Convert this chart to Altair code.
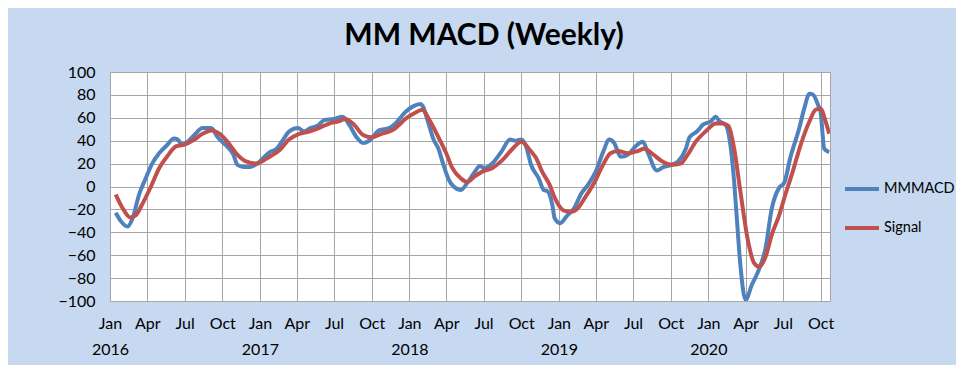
import altair as alt
import pandas as pd

# MMMACD (blue) readings
macd_dates = [
    "2016-01-15", "2016-01-27", "2016-02-13", "2016-02-25", "2016-03-12", "2016-03-28",
    "2016-04-13", "2016-04-30", "2016-05-19", "2016-06-05", "2016-06-14", "2016-06-25",
    "2016-07-08", "2016-07-25", "2016-08-14", "2016-09-04", "2016-09-20", "2016-10-10",
    "2016-10-28", "2016-11-07", "2016-11-22", "2016-12-07", "2016-12-25", "2017-01-01",
    "2017-01-25", "2017-02-11", "2017-02-27", "2017-03-13", "2017-04-04", "2017-04-19",
    "2017-05-04", "2017-05-22", "2017-06-07", "2017-07-01", "2017-07-22", "2017-08-07",
    "2017-08-25", "2017-09-10", "2017-09-25", "2017-10-19", "2017-11-13", "2017-11-28",
    "2017-12-10", "2017-12-22", "2018-01-10", "2018-01-28", "2018-02-03", "2018-02-15",
    "2018-03-01", "2018-03-13", "2018-03-25", "2018-04-07", "2018-04-19", "2018-05-07",
    "2018-05-22", "2018-06-10", "2018-06-22", "2018-07-04", "2018-07-22", "2018-08-13",
    "2018-09-04", "2018-09-16", "2018-10-01", "2018-10-13", "2018-10-25", "2018-11-13",
    "2018-11-25", "2018-12-04", "2018-12-16", "2018-12-22", "2019-01-04", "2019-01-22",
    "2019-02-07", "2019-02-25", "2019-03-10", "2019-04-01", "2019-04-19", "2019-05-04",
    "2019-05-16", "2019-06-01", "2019-06-19", "2019-07-07", "2019-07-25", "2019-08-07",
    "2019-08-28", "2019-09-13", "2019-10-04", "2019-10-19", "2019-11-07", "2019-11-16",
    "2019-12-04", "2019-12-19", "2020-01-07", "2020-01-19", "2020-01-28", "2020-02-12",
    "2020-02-25", "2020-03-04", "2020-03-10", "2020-03-19", "2020-04-01", "2020-04-16",
    "2020-05-04", "2020-05-19", "2020-06-04", "2020-06-22", "2020-07-04", "2020-07-19",
    "2020-08-10", "2020-08-22", "2020-09-04", "2020-09-13", "2020-09-25", "2020-10-01",
    "2020-10-10", "2020-10-22",
]
macd_values = [
    -23, -30, -35, -28, -7, 7,
    20, 29, 36, 42, 41, 37,
    39, 45, 51, 51, 43, 36,
    28, 19, 17, 17, 20, 22,
    30, 33, 41, 48, 51, 48,
    51, 53, 58, 59, 61, 54,
    43, 38, 40, 49, 51, 55,
    60, 65, 70, 72, 70, 57,
    41, 33, 19, 6, 0, -3,
    3, 13, 18, 16, 20, 30,
    41, 40, 41, 35, 19, 7,
    -3, -4, -16, -28, -32, -25,
    -19, -6, 0, 13, 30, 41,
    38, 26, 28, 35, 39, 29,
    14, 17, 19, 22, 33, 43,
    48, 54, 57, 61, 57, 54,
    33, 4, -25, -68, -99, -86,
    -72, -55, -19, -1, 3, 25,
    51, 68, 81, 80, 71, 65,
    33, 30,
]

# Signal (red) readings
signal_dates = [
    "2016-01-15", "2016-02-01", "2016-02-19", "2016-03-04", "2016-03-19", "2016-04-10",
    "2016-04-30", "2016-05-19", "2016-06-10", "2016-07-04", "2016-07-25", "2016-08-14",
    "2016-09-04", "2016-09-25", "2016-10-14", "2016-11-04", "2016-11-28", "2016-12-25",
    "2017-01-01", "2017-01-25", "2017-02-19", "2017-03-13", "2017-04-07", "2017-05-01",
    "2017-05-25", "2017-06-19", "2017-07-13", "2017-07-28", "2017-08-19", "2017-09-10",
    "2017-10-01", "2017-10-25", "2017-11-19", "2017-11-28", "2017-12-07", "2017-12-22",
    "2018-01-13", "2018-02-01", "2018-02-19", "2018-03-13", "2018-04-01", "2018-04-16",
    "2018-05-07", "2018-05-22", "2018-06-10", "2018-06-28", "2018-07-22", "2018-08-16",
    "2018-09-10", "2018-10-01", "2018-10-22", "2018-11-13", "2018-11-16", "2018-12-10",
    "2018-12-22", "2019-01-13", "2019-02-01", "2019-02-16", "2019-03-07", "2019-03-28",
    "2019-04-16", "2019-05-07", "2019-05-25", "2019-06-19", "2019-07-13", "2019-07-28",
    "2019-08-19", "2019-09-10", "2019-10-04", "2019-10-25", "2019-11-10", "2019-12-01",
    "2019-12-25", "2020-01-19", "2020-02-04", "2020-02-19", "2020-03-04", "2020-03-19",
    "2020-04-07", "2020-04-22", "2020-05-04", "2020-05-19", "2020-06-04", "2020-06-22",
    "2020-07-07", "2020-07-25", "2020-08-13", "2020-09-04", "2020-09-19", "2020-10-01",
    "2020-10-13", "2020-10-22",
]
signal_values = [
    -7, -19, -27, -25, -16, 0,
    16, 26, 35, 37, 41, 46,
    49, 46, 39, 29, 22, 20,
    21, 26, 32, 41, 46, 48,
    51, 55, 57, 59, 54, 45,
    43, 46, 49, 51, 54, 59,
    64, 67, 58, 43, 29, 16,
    7, 4, 9, 13, 16, 23,
    33, 39, 32, 20, 17, 1,
    -10, -21, -22, -19, -9, 3,
    17, 29, 31, 29, 31, 33,
    28, 22, 19, 20, 27, 39,
    48, 55, 55, 53, 33, -4,
    -48, -67, -70, -62, -42, -25,
    -7, 13, 36, 57, 67, 68,
    57, 46,
]

series_names = ["MMMACD", "Signal"]
series_colors = ["#4F81BD", "#C0504D"]
y_ticks = [-100, -80, -60, -40, -20, 0, 20, 40, 60, 80, 100]
x_tick_years = [2016, 2017, 2018, 2019, 2020]
x_tick_months = [1, 4, 7, 10]

df = pd.concat([
    pd.DataFrame({"date": macd_dates, "value": macd_values, "series": series_names[0]}),
    pd.DataFrame({"date": signal_dates, "value": signal_values, "series": series_names[1]}),
])

x_ticks = [alt.DateTime(year=y, month=m, date=1) for y in x_tick_years for m in x_tick_months]

FONT = "Lato"

chart = alt.Chart(df).mark_line(strokeWidth=4, interpolate="monotone", clip=True).encode(
    x=alt.X(
        "date:T",
        scale=alt.Scale(domain=[alt.DateTime(year=2016, month=1, date=1),
                                alt.DateTime(year=2020, month=10, date=24)]),
        axis=alt.Axis(
            values=x_ticks,
            title=None,
            grid=True,
            gridColor="#A6A6A6",
            gridWidth=1,
            domain=False,
            ticks=False,
            labelExpr="month(datum.value) == 0 ? [timeFormat(datum.value, '%b'), timeFormat(datum.value, '%Y')] : timeFormat(datum.value, '%b')",
            labelFont=FONT,
            labelFontSize=16,
            labelColor="black",
            labelPadding=14,
            labelLineHeight=26,
            labelOverlap=False,
            labelBound=False,
            labelFlush=False,
        ),
    ),
    y=alt.Y(
        "value:Q",
        scale=alt.Scale(domain=[-100, 100], nice=False),
        axis=alt.Axis(
            values=y_ticks,
            title=None,
            grid=True,
            gridColor="#A6A6A6",
            gridWidth=1,
            domain=False,
            ticks=False,
            labelFont=FONT,
            labelFontSize=16,
            labelColor="black",
            labelPadding=15,
        ),
    ),
    color=alt.Color(
        "series:N",
        scale=alt.Scale(domain=series_names, range=series_colors),
        legend=alt.Legend(
            title=None,
            orient="none",
            legendX=733,
            legendY=98,
            symbolType="stroke",
            symbolSize=1156,
            symbolStrokeWidth=4,
            labelFont=FONT,
            labelFontSize=14.5,
            labelColor="black",
            labelOffset=3,
            rowPadding=12,
        ),
    ),
).properties(
    width=720,
    height=229,
    title=alt.TitleParams(
        "MM MACD (Weekly)",
        font=FONT,
        fontSize=30,
        fontWeight="bold",
        color="black",
        anchor="middle",
        frame="group",
        dx=14,
        offset=13,
    ),
    autosize=alt.AutoSizeParams(type="none"),
    padding={"left": 102, "top": 64, "right": 126, "bottom": 64},
).configure(
    background="#C6D9F0",
).configure_view(
    fill="white",
    stroke="#A6A6A6",
    strokeWidth=1,
)

chart.save("out.html", embed_options={"renderer": "svg", "actions": False})
